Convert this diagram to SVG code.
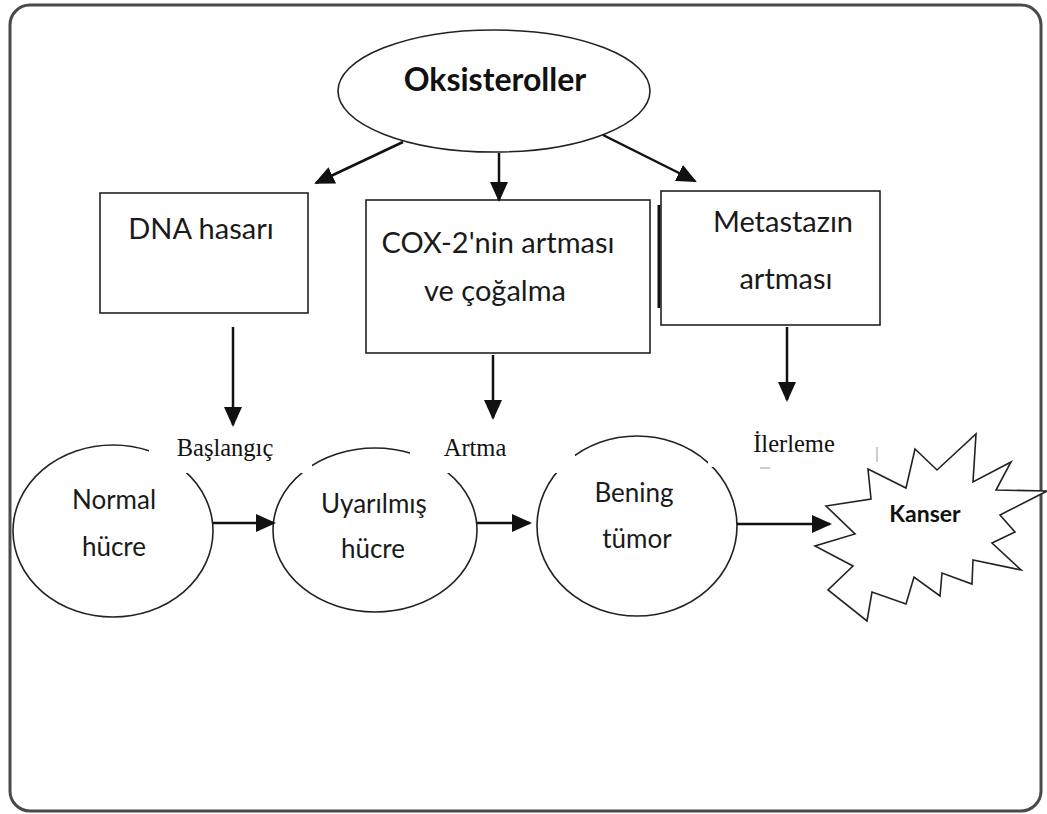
<svg xmlns="http://www.w3.org/2000/svg" width="1047" height="814" viewBox="0 0 1047 814">
<defs>
<style>
.frame{fill:#fff;stroke:#4a4a4a;stroke-width:3}
.shape{fill:#fff;stroke:#222;stroke-width:1.6}
.t{font-family:Lato,"Open Sans","Liberation Sans",sans-serif;font-size:29px;fill:#1a1a1a;text-anchor:middle}
.c{font-family:Lato,"Open Sans","Liberation Sans",sans-serif;font-size:26px;fill:#1a1a1a;text-anchor:middle}
.tb{font-family:Lato,"Open Sans","Liberation Sans",sans-serif;font-weight:bold;fill:#111;text-anchor:middle}
.lbl{font-family:"Liberation Serif","Times New Roman",serif;font-size:24.5px;fill:#111;text-anchor:middle}
.conn{stroke:#111;stroke-width:2.5;fill:none}
.mask{fill:#fff}
</style>
<marker id="ahL" markerWidth="20" markerHeight="18" refX="18" refY="9" orient="auto" markerUnits="userSpaceOnUse" viewBox="0 0 20 18">
<path d="M0,0 L20,9 L0,18 z" fill="#111"/>
</marker>
</defs>
<rect class="frame" x="10" y="5" width="1031" height="806" rx="20"/>

<g id="oksisteroller">
<ellipse class="shape" cx="494" cy="91" rx="156" ry="61"/>
<text class="tb" x="495" y="91" font-size="32">Oksisteroller</text>
</g>

<g id="dna">
<rect class="shape" x="100" y="193" width="208" height="120"/>
<text class="t" x="201" y="239">DNA hasarı</text>
</g>

<g id="cox">
<rect class="shape" x="366" y="200" width="284" height="153"/>
<text class="t" x="498" y="253">COX-2'nin artması</text>
<text class="t" x="495" y="301">ve çoğalma</text>
</g>

<g id="metastaz">
<line x1="659" y1="205" x2="659" y2="308" stroke="#111" stroke-width="3"/>
<rect class="shape" x="661" y="191" width="219" height="134"/>
<text class="t" x="783" y="232">Metastazın</text>
<text class="t" x="786" y="289">artması</text>
</g>

<g id="normal">
<ellipse class="shape" cx="113" cy="531" rx="100" ry="86"/>
<text class="c" x="114" y="509">Normal</text>
<text class="c" x="114" y="556">hücre</text>
</g>

<g id="uyarilmis">
<ellipse class="shape" cx="375" cy="530" rx="102" ry="82"/>
<text class="c" x="374" y="513">Uyarılmış</text>
<text class="c" x="373" y="558">hücre</text>
</g>

<g id="bening">
<ellipse class="shape" cx="637" cy="526" rx="100" ry="90"/>
<text class="c" x="634" y="502">Bening</text>
<text class="c" x="637" y="548">tümor</text>
</g>

<g id="kanser">
<polygon class="shape" points="868,469 906,488 915,449 937,470 976,434 973,482 1011,462 996,490 1047,491 1000,515 1015,532 992,543 1021,570 973,560 972,584 942,573 940,596 914,577 906,604 872,592 867,621 828,590 853,566 815,546 855,534 826,506 871,499"/>
<text class="tb" x="925" y="522" font-size="23">Kanser</text>
</g>

<g id="labels">
<rect class="mask" x="149" y="430" width="163" height="43"/>
<text class="lbl" x="225" y="456">Başlangıç</text>
<rect class="mask" x="410" y="430" width="165" height="43"/>
<text class="lbl" x="475" y="456">Artma</text>
<rect class="mask" x="708" y="425" width="170" height="42"/>
<text class="lbl" x="794" y="452">İlerleme</text>
<line x1="760" y1="468" x2="770" y2="468" stroke="#bbb" stroke-width="1.5"/>
<line x1="877" y1="447" x2="877" y2="462" stroke="#bbb" stroke-width="1.5"/>
</g>

<g id="connectors">
<line class="conn" x1="403" y1="142" x2="316" y2="183" marker-end="url(#ahL)"/>
<line class="conn" x1="499" y1="153" x2="499" y2="200" marker-end="url(#ahL)"/>
<line class="conn" x1="603" y1="135" x2="695" y2="181" marker-end="url(#ahL)"/>
<line class="conn" x1="233" y1="327" x2="233" y2="425" marker-end="url(#ahL)"/>
<line class="conn" x1="493" y1="355" x2="493" y2="418" marker-end="url(#ahL)"/>
<line class="conn" x1="787" y1="327" x2="787" y2="400" marker-end="url(#ahL)"/>
<line class="conn" x1="213" y1="523" x2="274" y2="523" marker-end="url(#ahL)"/>
<line class="conn" x1="477" y1="523" x2="530" y2="523" marker-end="url(#ahL)"/>
<line class="conn" x1="737" y1="524" x2="830" y2="524" marker-end="url(#ahL)"/>
</g>
</svg>
